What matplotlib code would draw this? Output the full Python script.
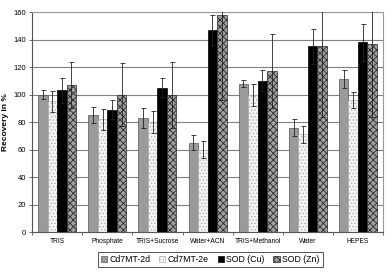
import numpy as np
import matplotlib
matplotlib.use('Agg')
import matplotlib.pyplot as plt

plt.rcParams['font.family'] = ['Liberation Sans', 'DejaVu Sans']
plt.rcParams['hatch.linewidth'] = 0.6

# Data
buffers = ['TRIS', 'Phosphate', 'TRIS+Sucrose', 'Water+ACN', 'TRIS+Methanol', 'Water', 'HEPES']
series = ['Cd7MT-2d', 'Cd7MT-2e', 'SOD (Cu)', 'SOD (Zn)']

cd2d = [100, 85, 83, 65, 108, 76, 111]
cd2d_err = [3.5, 6, 7, 5.5, 2.5, 6, 6.5]
cd2e = [95, 82, 80, 60, 100, 71, 96]
cd2e_err = [7.5, 7.5, 8, 6, 8, 6, 6]
sod_cu = [103, 89, 105, 147, 110, 135, 138]
sod_cu_err = [9, 7, 7, 11, 7.5, 13, 13.5]
sod_zn = [107, 100, 100, 158, 117, 135, 137]
sod_zn_err = [17, 23, 24, 62, 27, 51, 53]

values = [cd2d, cd2e, sod_cu, sod_zn]
errors = [cd2d_err, cd2e_err, sod_cu_err, sod_zn_err]
styles = [
    dict(color='#9a9a9a', edgecolor='#555555', hatch=None),
    dict(color='#f4f4f4', edgecolor='#b0b0b0', hatch='.....'),
    dict(color='#000000', edgecolor='#000000', hatch=None),
    dict(color='#a0a0a0', edgecolor='#2a2a2a', hatch='xxxxx'),
]

fig = plt.figure(figsize=(3.92, 2.73), dpi=100)
ax = fig.add_axes([0.082, 0.150, 0.895, 0.806])

x = np.arange(len(buffers))
width = 0.19
handles = []
for i, (vals, errs, st) in enumerate(zip(values, errors, styles)):
    pos = x + (i - 1.5) * width
    bars = ax.bar(pos, vals, width, color=st['color'], edgecolor=st['edgecolor'],
                  hatch=st['hatch'], linewidth=0.5, label=series[i], zorder=2)
    handles.append(bars)
    ax.errorbar(pos, vals, yerr=errs, fmt='none', ecolor='#222222', elinewidth=0.6,
                capsize=1.8, capthick=0.6, zorder=3)

ax.set_xlim(-0.5, len(buffers) - 0.5)
ax.set_ylim(0, 160)
ax.set_yticks(np.arange(0, 161, 20))
ax.yaxis.grid(True, color='#808080', linewidth=0.8, zorder=0)
ax.set_axisbelow(True)
ax.set_xticks(x)
ax.set_xticklabels(buffers, fontsize=4.8)
ax.set_xticks(np.arange(-0.5, len(buffers)), minor=True)
ax.tick_params(axis='x', which='major', length=0, pad=4)
ax.tick_params(axis='x', which='minor', length=2, width=0.6, color='#555555')
ax.tick_params(axis='y', labelsize=5.5, length=2.5, width=0.6, pad=2, color='#555555')
for side in ['top', 'right']:
    ax.spines[side].set_color('#999999')
    ax.spines[side].set_linewidth(0.8)
for side in ['left', 'bottom']:
    ax.spines[side].set_color('#555555')
    ax.spines[side].set_linewidth(0.8)

ax.set_ylabel('Recovery in %', fontsize=6, fontweight='bold', labelpad=3)

leg = fig.legend(handles, series, loc='center', bbox_to_anchor=(0.536, 0.05), ncol=4,
                 fontsize=6.3, frameon=True, fancybox=False, edgecolor='#000000',
                 handlelength=0.7, handleheight=0.7, handletextpad=0.3,
                 columnspacing=1.0, borderpad=0.35)
leg.get_frame().set_linewidth(0.6)

fig.savefig('out.png', dpi=100)
